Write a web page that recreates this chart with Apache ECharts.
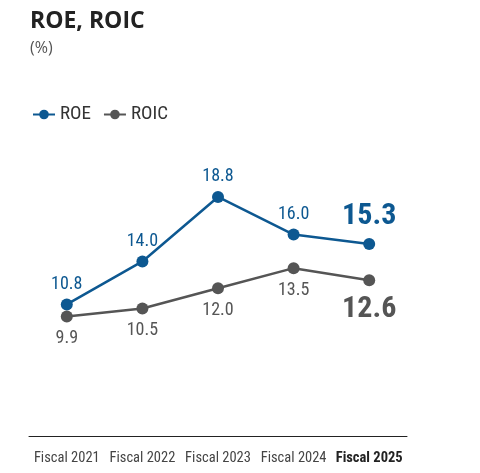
<!DOCTYPE html>
<html><head><meta charset="utf-8">
<script src="https://cdn.jsdelivr.net/npm/echarts@6/dist/echarts.min.js"></script>
<style>html,body{margin:0;padding:0;background:#fff}#c{width:480px;height:473px}</style>
</head><body><div id="c"></div>
<script>
const categories = ['Fiscal 2021','Fiscal 2022','Fiscal 2023','Fiscal 2024','Fiscal 2025'];
const roe = [10.8, 14.0, 18.8, 16.0, 15.3];
const roic = [9.9, 10.5, 12.0, 13.5, 12.6];
const FONT = '"Liberation Sans Narrow","Roboto Condensed","Liberation Sans",sans-serif';
const BLUE = '#0d5891';
const GRAY = '#555555';
function mk(vals, color, pos, dist, lastSize){
  return vals.map((v,i)=>{
    const last = i === vals.length-1;
    return {value:v, label:{show:true, position:pos, distance: last?dist+1:dist,
      color:color, fontFamily:FONT, fontSize: last?lastSize:18, fontWeight: last?'bold':'normal',
      formatter: p=>p.value.toFixed(1)}};
  });
}
const chart = echarts.init(document.getElementById('c'));
chart.setOption({
  animation:false,
  title:{text:'ROE, ROIC', subtext:'(%)', left:25, top:5, itemGap:7,
    textStyle:{fontFamily:'"Open Sans","Liberation Sans",sans-serif', fontSize:23, fontWeight:'bold', color:'#222'},
    subtextStyle:{fontFamily:'"Open Sans","Liberation Sans",sans-serif', fontSize:16, color:'#555'}},
  legend:{left:27, top:100, itemWidth:22, itemHeight:12, itemGap:12,
    textStyle:{fontFamily:FONT, fontSize:19, color:'#333'},
    data:['ROE','ROIC']},
  grid:{left:29, right:73, top:154, bottom:37},
  xAxis:{type:'category', data:categories, boundaryGap:true,
    axisLine:{lineStyle:{color:'#222', width:1}}, axisTick:{show:false},
    axisLabel:{interval:0, fontFamily:FONT, fontSize:14.5, color:'#444', margin:15,
      formatter:(v,i)=> i===categories.length-1 ? '{b|'+v+'}' : v,
      rich:{b:{fontFamily:FONT, fontSize:14.5, fontWeight:'bold', color:'#222'}}}},
  yAxis:{type:'value', min:1, max:22, show:false, splitLine:{show:false}},
  series:[
    {name:'ROE', type:'line', data:mk(roe, BLUE, 'top', 5, 30), color:BLUE,
      symbol:'circle', symbolSize:12, lineStyle:{width:2.5, color:BLUE}, itemStyle:{color:BLUE}},
    {name:'ROIC', type:'line', data:mk(roic, GRAY, 'bottom', 7, 30), color:GRAY,
      symbol:'circle', symbolSize:12, lineStyle:{width:2.5, color:GRAY}, itemStyle:{color:GRAY}}
  ]
});
</script></body></html>
